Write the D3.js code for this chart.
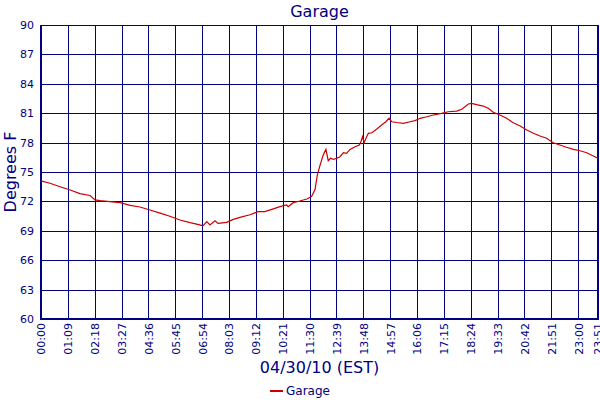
<!DOCTYPE html>
<html>
<head>
<meta charset="utf-8">
<script src="https://cdn.jsdelivr.net/npm/d3@7"></script>
<style>
  body { margin: 0; background: #fff; }
  svg { font-family: "DejaVu Sans", Verdana, sans-serif; }
  text { fill: #000080; }
</style>
</head>
<body>
<div class="chart-div"></div>
<script>
var times = ["00:00","00:23","00:49","01:15","01:40","02:06","02:19","02:32","02:57","03:23",
  "03:49","04:14","04:40","05:06","05:31","05:57","06:23","06:48","06:56","07:06",
  "07:14","07:27","07:35","07:57","08:14","08:31","08:57","09:18","09:35","09:53",
  "10:14","10:31","10:35","10:48","11:05","11:23","11:35","11:44","11:50","11:57",
  "12:05","12:12","12:18","12:24","12:31","12:40","12:48","12:57","13:05","13:14",
  "13:27","13:38","13:42","13:46","13:50","13:55","14:01","14:10","14:22","14:35",
  "14:46","14:54","15:01","15:14","15:31","15:48","16:01","16:14","16:31","16:48",
  "17:09","17:26","17:48","18:01","18:18","18:26","18:39","18:56","19:09","19:22",
  "19:39","19:56","20:13","20:31","20:48","21:05","21:22","21:39","21:56","22:13",
  "22:30","22:48","23:05","23:22","23:39","23:51"];

var temps = [74.1,73.85,73.5,73.16,72.8,72.6,72.15,72.07,71.97,71.87,
  71.6,71.43,71.12,70.8,70.48,70.1,69.83,69.6,69.5,69.93,
  69.6,70.03,69.75,69.86,70.17,70.37,70.64,70.95,70.95,71.19,
  71.46,71.63,71.46,71.87,72.04,72.24,72.5,73.2,74.7,75.7,
  76.73,77.3,76.15,76.4,76.3,76.4,76.56,76.97,76.9,77.3,
  77.58,77.76,78.1,78.6,77.99,78.45,78.95,79.0,79.36,79.8,
  80.13,80.48,80.13,80.05,79.97,80.13,80.24,80.48,80.64,80.82,
  80.99,81.15,81.22,81.4,81.94,82.0,81.87,81.73,81.5,81.09,
  80.82,80.48,80.03,79.7,79.29,78.95,78.67,78.44,77.99,77.76,
  77.52,77.31,77.17,76.97,76.63,76.4];

var x_ticks = ["00:00","01:09","02:18","03:27","04:36","05:45","06:54","08:03","09:12","10:21",
  "11:30","12:39","13:48","14:57","16:06","17:15","18:24","19:33","20:42","21:51",
  "23:00","23:51"];

var y_ticks = [60,63,66,69,72,75,78,81,84,87,90];

var series_name = "Garage";

function to_min(s) {
  var p = s.split(":");
  return +p[0]*60 + +p[1];
}

function draw_chart() {
  var w = 600,
      h = 400,
      left = 41,
      right = 598,
      top = 25,
      bottom = 319,
      navy = "#000080",
      red = "#cc0000";

  var svg = d3.select('.chart-div')
    .append('svg')
    .attr('width', w)
    .attr('height', h);

  var x = d3.scaleLinear()
    .domain([0, to_min(x_ticks[x_ticks.length - 1])])
    .range([left, right]);

  var y = d3.scaleLinear()
    .domain([60, 90])
    .range([bottom, top]);

  // grid
  var xAxis = d3.axisBottom(x)
    .tickValues(x_ticks.map(to_min))
    .tickSize(-(bottom - top))
    .tickFormat(function(d, i) { return x_ticks[i]; });

  var gx = svg.append('g')
    .attr('transform', 'translate(0,' + bottom + ')')
    .call(xAxis);
  gx.select('.domain').remove();
  gx.selectAll('line').attr('stroke', navy).attr('stroke-width', 1)
    .attr('shape-rendering', 'crispEdges');
  gx.selectAll('text')
    .attr('transform', 'rotate(-90)')
    .attr('x', -4)
    .attr('y', 0)
    .attr('dy', '0.35em')
    .style('text-anchor', 'end')
    .style('font-size', '11px')
    .style('font-family', '"DejaVu Sans", sans-serif')
    .attr('fill', navy);

  var yAxis = d3.axisLeft(y)
    .tickValues(y_ticks)
    .tickSize(-(right - left))
    .tickPadding(7);

  var gy = svg.append('g')
    .attr('transform', 'translate(' + left + ',0)')
    .call(yAxis);
  gy.select('.domain').remove();
  gy.selectAll('line').attr('stroke', navy).attr('stroke-width', 1)
    .attr('shape-rendering', 'crispEdges');
  gy.selectAll('text')
    .style('font-size', '11px')
    .style('font-family', '"DejaVu Sans", sans-serif')
    .attr('fill', navy);

  // frame
  svg.append('line').attr('x1', left).attr('x2', left).attr('y1', top).attr('y2', bottom + 1)
    .attr('stroke', navy).attr('stroke-width', 2);
  svg.append('line').attr('x1', right).attr('x2', right).attr('y1', top).attr('y2', bottom + 1)
    .attr('stroke', navy).attr('stroke-width', 2);
  svg.append('line').attr('x1', left).attr('x2', right).attr('y1', bottom).attr('y2', bottom)
    .attr('stroke', navy).attr('stroke-width', 2);

  // series
  var pts = times.map(function(t, i) { return [to_min(t), temps[i]]; });
  var line = d3.line()
    .x(function(d) { return x(d[0]); })
    .y(function(d) { return y(d[1]); });

  svg.append('path')
    .datum(pts)
    .attr('d', line)
    .attr('fill', 'none')
    .attr('stroke', red)
    .attr('stroke-width', 1.2);

  // titles
  svg.append('text')
    .attr('x', (left + right) / 2)
    .attr('y', 17)
    .attr('text-anchor', 'middle')
    .style('font-size', '16px')
    .text(series_name);

  svg.append('text')
    .attr('transform', 'translate(16,' + (top + bottom) / 2 + ') rotate(-90)')
    .attr('text-anchor', 'middle')
    .style('font-size', '16px')
    .text('Degrees F');

  svg.append('text')
    .attr('x', (left + right) / 2)
    .attr('y', 373)
    .attr('text-anchor', 'middle')
    .style('font-size', '16px')
    .text('04/30/10 (EST)');

  // legend
  svg.append('line')
    .attr('x1', 270).attr('x2', 283)
    .attr('y1', 391).attr('y2', 391)
    .attr('stroke', red).attr('stroke-width', 2);
  svg.append('text')
    .attr('x', 286)
    .attr('y', 395)
    .style('font-size', '12px')
    .text(series_name);
}

draw_chart();
</script>
</body>
</html>
